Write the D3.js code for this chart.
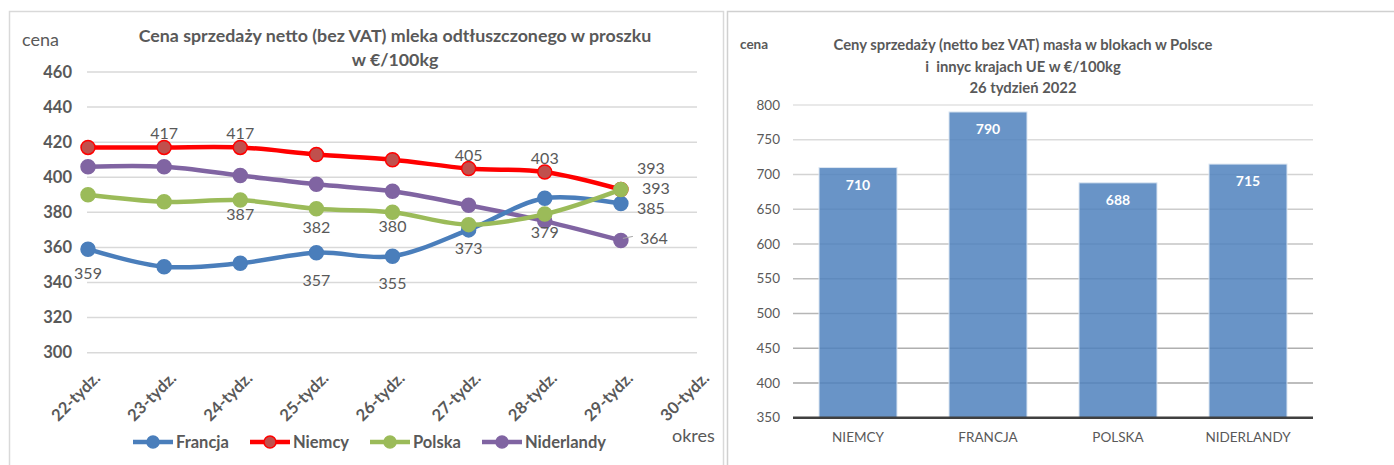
<!DOCTYPE html>
<html>
<head>
<meta charset="utf-8">
<script src="https://cdn.jsdelivr.net/npm/d3@7"></script>
<style>
  body { margin: 0; background: #fff; }
  svg { display: block; font-family: Lato, "Open Sans", sans-serif; }
</style>
</head>
<body>
<svg id="chart" width="1394" height="465"></svg>
<script>
// left chart: skim milk powder, weeks 22-30
var weeks = ["22-tydz.", "23-tydz.", "24-tydz.", "25-tydz.", "26-tydz.", "27-tydz.", "28-tydz.", "29-tydz.", "30-tydz."];
var francja    = [359, 349, 351, 357, 355, 370, 388, 385];
var niemcy     = [417, 417, 417, 413, 410, 405, 403, 393];
var polska     = [390, 386, 387, 382, 380, 373, 379, 393];
var niderlandy = [406, 406, 401, 396, 392, 384, 375, 364];
var leftTicks = [300, 320, 340, 360, 380, 400, 420, 440, 460];

// right chart: butter in blocks, week 26
var countries = ["NIEMCY", "FRANCJA", "POLSKA", "NIDERLANDY"];
var butter = [710, 790, 688, 715];
var rightTicks = [350, 400, 450, 500, 550, 600, 650, 700, 750, 800];

var svg = d3.select("#chart");
var txt = "#595959";

// panel frames
svg.append("rect").attr("x", 9.5).attr("y", 11.5).attr("width", 714).attr("height", 470)
  .attr("fill", "none").attr("stroke", "#d9d9d9").attr("stroke-width", 1.5);
svg.append("rect").attr("x", 727.5).attr("y", 11.5).attr("width", 700).attr("height", 470)
  .attr("fill", "none").attr("stroke", "#d0d0d0").attr("stroke-width", 1.5);

/* ---------- left: line chart ---------- */
var x = d3.scalePoint().domain(weeks).range([88, 697]);
var y = d3.scaleLinear().domain([300, 460]).range([352.7, 72]);

var left = svg.append("g");

left.append("g").selectAll("line")
  .data(leftTicks)
  .enter().append("line")
    .attr("x1", 87).attr("x2", 697)
    .attr("y1", function(d) { return y(d); })
    .attr("y2", function(d) { return y(d); })
    .attr("stroke", "#d9d9d9").attr("stroke-width", 1.5);

left.append("g").selectAll("text")
  .data(leftTicks)
  .enter().append("text")
    .attr("x", 72).attr("y", function(d) { return y(d); })
    .attr("dy", "0.35em").attr("text-anchor", "end")
    .attr("fill", txt).style("font-size", "16.5px").style("font-weight", "bold")
    .text(function(d) { return d; });

left.append("g").selectAll("text")
  .data(weeks)
  .enter().append("text")
    .attr("transform", function(d) { return "translate(" + (x(d) + 5) + ",371) rotate(-45)"; })
    .attr("text-anchor", "end").attr("dy", "0.7em")
    .attr("fill", txt).style("font-size", "16.5px").style("font-weight", "bold")
    .text(function(d) { return d; });

left.append("text").attr("x", 22).attr("y", 46).attr("fill", txt)
  .style("font-size", "18px").text("cena");
left.append("text").attr("x", 672).attr("y", 442).attr("fill", txt)
  .style("font-size", "18px").text("okres");

left.append("text").attr("x", 395).attr("y", 42).attr("text-anchor", "middle")
  .attr("fill", txt).style("font-size", "17.8px").style("font-weight", "bold")
  .text("Cena sprzedaży netto (bez VAT) mleka odtłuszczonego w proszku");
left.append("text").attr("x", 395).attr("y", 66).attr("text-anchor", "middle")
  .attr("fill", txt).style("font-size", "17.8px").style("font-weight", "bold")
  .text("w €/100kg");

var series = [
  { name: "Francja", values: francja, color: "#4a7ebb", marker: "#4a7ebb" },
  { name: "Niemcy", values: niemcy, color: "#ff0000", marker: "#c0504d" },
  { name: "Polska", values: polska, color: "#9bbb59", marker: "#9bbb59" },
  { name: "Niderlandy", values: niderlandy, color: "#8064a2", marker: "#8064a2" }
];

var line = d3.line()
  .x(function(d, i) { return x(weeks[i]); })
  .y(function(d) { return y(d); })
  .curve(d3.curveCatmullRom.alpha(0.5));

// draw order so the green line ends up on top
var drawOrder = [1, 3, 0, 2];
drawOrder.forEach(function(k) {
  var s = series[k];
  var g = left.append("g");
  g.append("path").attr("d", line(s.values))
    .attr("fill", "none").attr("stroke", s.color).attr("stroke-width", 4.5);
  g.selectAll("circle")
    .data(s.values)
    .enter().append("circle")
      .attr("cx", function(d, i) { return x(weeks[i]); })
      .attr("cy", function(d) { return y(d); })
      .attr("r", 7)
      .attr("fill", s.marker).attr("stroke", s.color).attr("stroke-width", 1.5);
});

// data labels: [series, point, dx, dy]
var labelPlaces = [
  [0, 0, 0, 30], [0, 3, 0, 33], [0, 4, 0, 33], [0, 7, 16, 10],
  [1, 1, 0, -8], [1, 2, 0, -8], [1, 5, 0, -7], [1, 6, 0, -8], [1, 7, 16, -16],
  [2, 2, 0, 20], [2, 3, 0, 24], [2, 4, 0, 20], [2, 5, 0, 29], [2, 6, 0, 24], [2, 7, 21, 4],
  [3, 7, 19, 4]
];
left.append("g").selectAll("text")
  .data(labelPlaces)
  .enter().append("text")
    .attr("x", function(d) { return x(weeks[d[1]]) + d[2]; })
    .attr("y", function(d) { return y(series[d[0]].values[d[1]]) + d[3]; })
    .attr("text-anchor", function(d) { return d[2] ? "start" : "middle"; })
    .attr("fill", txt).style("font-size", "16px")
    .text(function(d) { return series[d[0]].values[d[1]]; });

// leader for 364
left.append("line")
  .attr("x1", x(weeks[7]) + 2).attr("y1", y(niderlandy[7]) - 2)
  .attr("x2", x(weeks[7]) + 12).attr("y2", y(niderlandy[7]) - 4)
  .attr("stroke", "#a6a6a6").attr("stroke-width", 1);

// legend
var legendX = [133, 250, 370, 482];
var leg = left.append("g").selectAll("g")
  .data(series)
  .enter().append("g")
    .attr("transform", function(d, i) { return "translate(" + legendX[i] + ",442)"; });
leg.append("line").attr("x1", 0).attr("x2", 40).attr("y1", 0).attr("y2", 0)
  .attr("stroke", function(d) { return d.color; }).attr("stroke-width", 4.5);
leg.append("circle").attr("cx", 20).attr("cy", 0).attr("r", 6)
  .attr("fill", function(d) { return d.marker; })
  .attr("stroke", function(d) { return d.color; }).attr("stroke-width", 1.5);
leg.append("text").attr("x", 43).attr("dy", "0.35em")
  .attr("fill", txt).style("font-size", "16.5px").style("font-weight", "bold")
  .text(function(d) { return d.name; });

/* ---------- right: bar chart ---------- */
var xb = d3.scaleBand().domain(countries).range([793, 1313]).paddingInner(0.4).paddingOuter(0.2);
var yb = d3.scaleLinear().domain([350, 800]).range([417.7, 105]);
var gridShade = d3.scaleLinear().domain([350, 800]).range(["#a0a0a0", "#e2e2e2"]);

var right = svg.append("g");

right.append("g").selectAll("line")
  .data(rightTicks.slice(1))
  .enter().append("line")
    .attr("x1", 793).attr("x2", 1313)
    .attr("y1", function(d) { return yb(d); })
    .attr("y2", function(d) { return yb(d); })
    .attr("stroke", function(d) { return gridShade(d); }).attr("stroke-width", 1.5);

right.append("g").selectAll("text")
  .data(rightTicks)
  .enter().append("text")
    .attr("x", 780).attr("y", function(d) { return yb(d); })
    .attr("dy", "0.35em").attr("text-anchor", "end")
    .attr("fill", txt).style("font-size", "13.5px")
    .text(function(d) { return d; });

right.append("g").selectAll("rect")
  .data(butter)
  .enter().append("rect")
    .attr("x", function(d, i) { return xb(countries[i]); })
    .attr("width", xb.bandwidth())
    .attr("y", function(d) { return yb(d); })
    .attr("height", function(d) { return yb(350) - yb(d); })
    .attr("fill", "#4f81bd").attr("fill-opacity", 0.85)
    .attr("stroke", "#dce6f2").attr("stroke-width", 1);

right.append("g").selectAll("text")
  .data(butter)
  .enter().append("text")
    .attr("x", function(d, i) { return xb(countries[i]) + xb.bandwidth() / 2; })
    .attr("y", function(d) { return yb(d) + 22; })
    .attr("text-anchor", "middle").attr("fill", "#fff")
    .style("font-size", "14px").style("font-weight", "bold")
    .text(function(d) { return d; });

right.append("line").attr("x1", 793).attr("x2", 1313)
  .attr("y1", yb(350)).attr("y2", yb(350))
  .attr("stroke", "#404040").attr("stroke-width", 2.5);

right.append("g").selectAll("text")
  .data(countries)
  .enter().append("text")
    .attr("x", function(d) { return xb(d) + xb.bandwidth() / 2; })
    .attr("y", 442).attr("text-anchor", "middle")
    .attr("fill", txt).style("font-size", "13.5px")
    .text(function(d) { return d; });

right.append("text").attr("x", 740).attr("y", 49).attr("fill", txt)
  .style("font-size", "13.5px").style("font-weight", "bold").text("cena");

var rightTitle = ["Ceny sprzedaży (netto bez VAT) masła w blokach w Polsce",
                  "i  innyc krajach UE w €/100kg",
                  "26 tydzień 2022"];
right.append("g").selectAll("text")
  .data(rightTitle)
  .enter().append("text")
    .attr("x", 1023).attr("y", function(d, i) { return 50 + i * 21.5; })
    .attr("text-anchor", "middle").attr("fill", txt)
    .style("font-size", "14.8px").style("font-weight", "bold")
    .style("white-space", "pre")
    .text(function(d) { return d; });
</script>
</body>
</html>
